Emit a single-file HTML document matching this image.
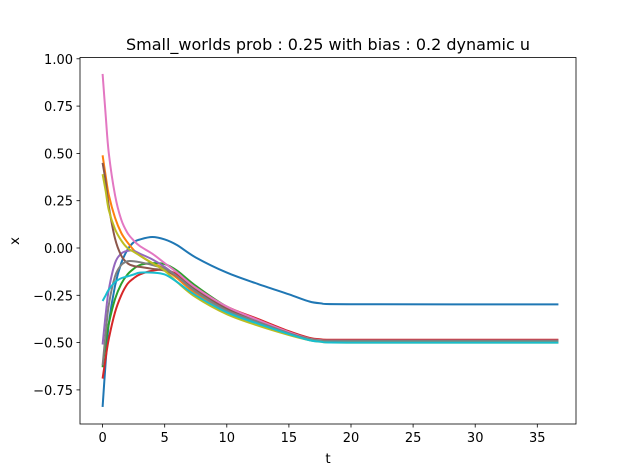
<!DOCTYPE html>
<html><head><meta charset="utf-8"><style>
body{margin:0;background:#fff;}
svg{display:block;font-family:"DejaVu Sans","Liberation Sans",sans-serif;}
</style></head><body>
<svg id="chart" width="640" height="476">
<rect width="640" height="476" fill="#fff"/>
<text x="328" y="50" font-size="16" text-anchor="middle">Small_worlds prob : 0.25 with bias : 0.2 dynamic u</text>
<text x="328" y="463" font-size="13.5" text-anchor="middle">t</text>
<text x="19" y="241" font-size="13.5" text-anchor="middle" transform="rotate(-90 19 241)">x</text>
<g id="series"></g>
<g id="axes"></g>
</svg>
<script>
const tVals=[0,0.25,0.5,1,1.5,2,2.5,3,4,5,6,7.5,10,12.5,15,16.5,17.5,20,36.7];
const sBlue=[-0.84,-0.6,-0.4,-0.2,-0.08,-0.01,0.03,0.045,0.058,0.045,0.015,-0.05,-0.13,-0.19,-0.245,-0.28,-0.292,-0.297,-0.298];
const sOrange=[0.49,0.38,0.28,0.16,0.08,0.03,-0.01,-0.04,-0.08,-0.11,-0.16,-0.24,-0.33,-0.39,-0.45,-0.478,-0.487,-0.49,-0.49];
const sGreen=[-0.63,-0.5,-0.4,-0.27,-0.19,-0.14,-0.11,-0.09,-0.08,-0.085,-0.12,-0.2,-0.31,-0.38,-0.445,-0.475,-0.485,-0.49,-0.49];
const sRed=[-0.69,-0.58,-0.48,-0.34,-0.25,-0.19,-0.16,-0.14,-0.12,-0.115,-0.14,-0.21,-0.31,-0.375,-0.44,-0.472,-0.482,-0.485,-0.485];
const sPurple=[-0.51,-0.35,-0.22,-0.08,-0.03,-0.015,-0.015,-0.03,-0.06,-0.1,-0.15,-0.23,-0.33,-0.39,-0.45,-0.478,-0.488,-0.49,-0.49];
const sBrown=[0.45,0.35,0.22,0.05,-0.04,-0.08,-0.095,-0.1,-0.11,-0.12,-0.15,-0.22,-0.32,-0.385,-0.445,-0.476,-0.486,-0.49,-0.49];
const sPink=[0.92,0.7,0.5,0.28,0.15,0.08,0.04,0.01,-0.03,-0.08,-0.13,-0.21,-0.31,-0.38,-0.445,-0.477,-0.487,-0.49,-0.49];
const sGray=[-0.62,-0.45,-0.3,-0.15,-0.09,-0.07,-0.07,-0.075,-0.09,-0.11,-0.15,-0.23,-0.33,-0.39,-0.45,-0.478,-0.488,-0.49,-0.49];
const sOlive=[0.39,0.3,0.2,0.1,0.04,0.0,-0.02,-0.04,-0.08,-0.12,-0.18,-0.26,-0.35,-0.41,-0.46,-0.485,-0.495,-0.5,-0.5];
const sCyan=[-0.28,-0.25,-0.22,-0.18,-0.16,-0.15,-0.14,-0.13,-0.13,-0.14,-0.18,-0.25,-0.34,-0.4,-0.455,-0.485,-0.495,-0.5,-0.5];
const seriesNames=["blue","orange","green","red","purple","brown","pink","gray","olive","cyan"];
const seriesColors=["#1f77b4","#ff7f0e","#2ca02c","#d62728","#9467bd","#8c564b","#e377c2","#7f7f7f","#bcbd22","#17becf"];
const xTicks=[0,5,10,15,20,25,30,35];
const yTicks=[-0.75,-0.5,-0.25,0,0.25,0.5,0.75,1.0];
const yTickLabels=["−0.75","−0.50","−0.25","0.00","0.25","0.50","0.75","1.00"];

const NS="http://www.w3.org/2000/svg";
const L=80,R=576,T=57.5,B=424;
function xScale(t){return 102.6+t*12.42;}
function yScale(v){return 248-v*189.2;}
function mk(tag,attrs,parent){const e=document.createElementNS(NS,tag);for(const k in attrs)e.setAttribute(k,attrs[k]);parent.appendChild(e);return e;}
const sg=document.getElementById('series');
const all=[sBlue,sOrange,sGreen,sRed,sPurple,sBrown,sPink,sGray,sOlive,sCyan];
all.forEach((vals,i)=>{
  const p=tVals.map((t,j)=>[xScale(t),yScale(vals[j])]);
  let d="M"+p[0][0]+","+p[0][1];
  for(let j=0;j<p.length-1;j++){
    const p0=p[Math.max(0,j-1)],p1=p[j],p2=p[j+1],p3=p[Math.min(p.length-1,j+2)];
    const c1=[p1[0]+(p2[0]-p0[0])/6,p1[1]+(p2[1]-p0[1])/6];
    const c2=[p2[0]-(p3[0]-p1[0])/6,p2[1]-(p3[1]-p1[1])/6];
    d+=" C"+c1+" "+c2+" "+p2;
  }
  const path=mk('path',{d:d,fill:'none',stroke:seriesColors[i],'stroke-width':2,'stroke-linejoin':'round'},sg);
  
  
});
const ag=document.getElementById('axes');
const frame=mk('rect',{x:L,y:T,width:R-L,height:B-T,fill:'none',stroke:'#000','stroke-width':0.8},ag);


xTicks.forEach(t=>{
  const x=xScale(t);
  mk('line',{x1:x,x2:x,y1:B,y2:B+3.5,stroke:'#000','stroke-width':0.8},ag);
  const tx=mk('text',{x:x,y:B+18,'font-size':13,'text-anchor':'middle'},ag);
  tx.textContent=t;
  
  
});
yTicks.forEach((v,i)=>{
  const y=yScale(v);
  mk('line',{x1:L-3.5,x2:L,y1:y,y2:y,stroke:'#000','stroke-width':0.8},ag);
  const tx=mk('text',{x:L-7,y:y+5,'font-size':13,'text-anchor':'end'},ag);
  tx.textContent=yTickLabels[i];
  
  
});
</script>
</body></html>
